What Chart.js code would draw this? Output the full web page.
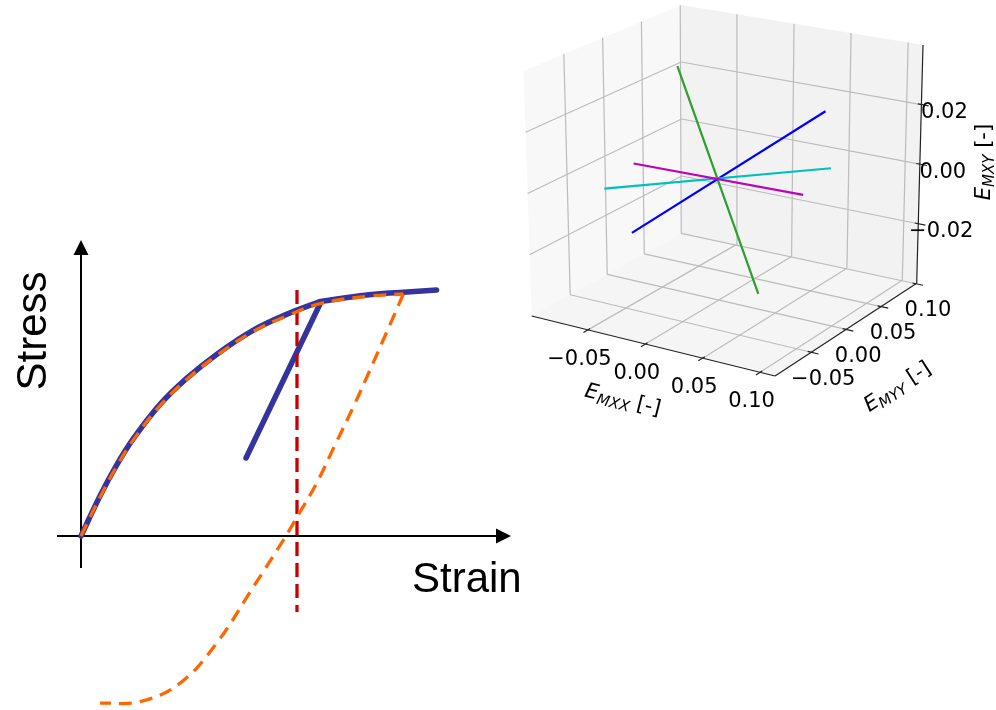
<!DOCTYPE html>
<html>
<head>
<meta charset="utf-8">
<script src="https://cdn.jsdelivr.net/npm/chart.js@4.4.1/dist/chart.umd.min.js"></script>
<style>
  html, body { margin: 0; padding: 0; background: #fff; }
  body { width: 996px; height: 710px; position: relative; overflow: hidden; }
  #curveBox { position: absolute; left: 0; top: 225px; width: 540px; height: 485px; }
  #strainBox { position: absolute; left: 500px; top: 0; width: 496px; height: 440px; }
</style>
</head>
<body>
<div id="curveBox"><canvas id="curveChart" width="540" height="485"></canvas></div>
<div id="strainBox"><canvas id="strainChart" width="496" height="440"></canvas></div>
<script>
// ---------- left: stress / strain sketch (arbitrary units) ----------
const loadStrain = [0, 0.475, 0.89, 1.3, 1.975, 2.64, 3.39, 4.3, 5.14, 5.975];
const loadStress = [0, 1.0, 1.77, 2.42, 3.29, 3.94, 4.54, 5.14, 5.54, 5.86];
const hardenStrain = [5.975, 7.14, 7.975, 8.89];
const hardenStress = [5.86, 6.025, 6.09, 6.15];
const unloadStrain = [5.975, 4.125];
const unloadStress = [5.8, 1.95];
const modelUpStrain = [0, 0.475, 0.89, 1.3, 1.975, 2.64, 3.39, 4.3, 5.14, 5.975, 7.14, 8.06];
const modelUpStress = [0, 0.97, 1.74, 2.39, 3.26, 3.91, 4.51, 5.11, 5.5, 5.81, 5.99, 6.05];
const modelDownStrain = [8.06, 7.81, 7.225, 6.81, 6.35, 5.89, 5.475, 5.06, 4.31, 3.39, 2.475, 1.475, 0.475];
const modelDownStress = [6.05, 5.48, 4.15, 3.23, 2.275, 1.32, 0.6, -0.1, -1.27, -2.68, -3.68, -4.14, -4.18];
const markStrain = [5.4, 5.4];
const markStress = [6.15, -1.9];
const axisStrain = [-0.6, 10.75];
const axisStress = [-0.8, 7.4];

// ---------- right: 3D strain plot ----------
const exxLim = [-0.099, 0.113];
const eyyLim = [-0.102, 0.101];
const exyLim = [-0.040, 0.040];
const exxTicks = [-0.05, 0.00, 0.05, 0.10];
const eyyTicks = [-0.05, 0.00, 0.05, 0.10];
const exyTicks = [-0.02, 0.00, 0.02];
const exxTickLabels = ['\u22120.05', '0.00', '0.05', '0.10'];
const eyyTickLabels = ['\u22120.05', '0.00', '0.05', '0.10'];
const exyTickLabels = ['\u22120.02', '0.00', '0.02'];
// one segment per line: [start, end]
const exxEnds = [[-0.035, 0.035], [-0.041, 0.051], [-0.059, 0.059], [-0.072, 0.072]];
const eyyEnds = [[0.000, 0.000], [-0.054, 0.066], [-0.062, 0.062], [-0.003, 0.003]];
const exyEnds = [[0.035, -0.035], [-0.014, 0.018], [0.000, 0.000], [0.000, 0.000]];
const lineColors = ['#2ca02c', '#0000ff', '#00bfbf', '#bf00bf'];

const data2d = (xs, ys) => xs.map((x, i) => ({ x: x, y: ys[i] }));

// layout of the sketch: origin pixel and scale
const UNIT = 40, ORIGIN_X = 81, ORIGIN_Y = 311, CW = 540, CH = 485;

const arrowAxes = {
  id: 'arrowAxes',
  beforeDatasetsDraw(chart) {
    const ctx = chart.ctx, xs = chart.scales.x, ys = chart.scales.y;
    const y0 = ys.getPixelForValue(0), x0 = xs.getPixelForValue(0);
    const xa = xs.getPixelForValue(axisStrain[0]), xb = xs.getPixelForValue(axisStrain[1]);
    const ya = ys.getPixelForValue(axisStress[0]), yb = ys.getPixelForValue(axisStress[1]);
    const head = 15, half = 7.5;
    ctx.save();
    ctx.strokeStyle = '#000';
    ctx.fillStyle = '#000';
    ctx.lineWidth = 2;
    ctx.beginPath();
    ctx.moveTo(xa, y0); ctx.lineTo(xb - head + 1, y0);
    ctx.moveTo(x0, ya); ctx.lineTo(x0, yb + head - 1);
    ctx.stroke();
    ctx.beginPath();
    ctx.moveTo(xb, y0); ctx.lineTo(xb - head, y0 - half); ctx.lineTo(xb - head, y0 + half); ctx.closePath();
    ctx.moveTo(x0, yb); ctx.lineTo(x0 - half, yb + head); ctx.lineTo(x0 + half, yb + head); ctx.closePath();
    ctx.fill();
    ctx.font = '42px "Liberation Sans", Arial, sans-serif';
    ctx.textAlign = 'left';
    ctx.textBaseline = 'alphabetic';
    ctx.fillText('Strain', 412, 367);
    ctx.translate(34.5, 106);
    ctx.rotate(-Math.PI / 2);
    ctx.textAlign = 'center';
    ctx.textBaseline = 'middle';
    ctx.fillText('Stress', 0, 0);
    ctx.restore();
  }
};

new Chart(document.getElementById('curveChart'), {
  type: 'line',
  data: {
    datasets: [
      { data: data2d(modelUpStrain, modelUpStress), borderColor: '#ff6600', borderWidth: 3.3, borderDash: [13, 8], order: 1 },
      { data: data2d(modelDownStrain, modelDownStress), borderColor: '#ff6600', borderWidth: 3.3, borderDash: [13, 8], order: 1 },
      { data: data2d(markStrain, markStress), borderColor: '#c80000', borderWidth: 3.3, borderDash: [14, 7], tension: 0, order: 2 },
      { data: data2d(unloadStrain, unloadStress), borderColor: '#34349c', borderWidth: 5.5, borderCapStyle: 'round', tension: 0, order: 3 },
      { data: data2d(hardenStrain, hardenStress), borderColor: '#34349c', borderWidth: 5.5, borderCapStyle: 'round', order: 4 },
      { data: data2d(loadStrain, loadStress), borderColor: '#34349c', borderWidth: 5.5, borderCapStyle: 'round', order: 4 }
    ].map(d => Object.assign({ pointRadius: 0, fill: false, tension: 0.4, capBezierPoints: false }, d))
  },
  options: {
    responsive: false,
    animation: false,
    devicePixelRatio: 1,
    events: [],
    layout: { padding: 0 },
    plugins: { legend: { display: false }, tooltip: { enabled: false } },
    scales: {
      x: { type: 'linear', display: false, min: -ORIGIN_X / UNIT, max: (CW - ORIGIN_X) / UNIT },
      y: { type: 'linear', display: false, min: -(CH - ORIGIN_Y) / UNIT, max: ORIGIN_Y / UNIT }
    }
  },
  plugins: [arrowAxes]
});

// ---------- 3D projection: box corners on the page, trilinear in between ----------
const corner = {
  '000': [531.7, 316], '100': [775, 376], '010': [682, 233], '110': [916.7, 283.3],
  '001': [523.5, 71], '101': [776, 119], '011': [681, 5], '111': [923, 45]
};
function project(x, y, z) {
  const u = (x - exxLim[0]) / (exxLim[1] - exxLim[0]);
  const v = (y - eyyLim[0]) / (eyyLim[1] - eyyLim[0]);
  const w = (z - exyLim[0]) / (exyLim[1] - exyLim[0]);
  let px = 0, py = 0;
  for (const key in corner) {
    const a = +key[0], b = +key[1], c = +key[2];
    const k = (a ? u : 1 - u) * (b ? v : 1 - v) * (c ? w : 1 - w);
    px += k * corner[key][0];
    py += k * corner[key][1];
  }
  return { x: px, y: py };
}
const P = (p) => project(p[0], p[1], p[2]);

const [x0, x1] = exxLim, [y0, y1] = eyyLim, [z0, z1] = exyLim;
const ds3 = [];
function addLine(pts, style) {
  ds3.push(Object.assign({ data: pts.map(P), showLine: true, pointRadius: 0, fill: false }, style));
}
// panes
addLine([[x0, y0, z0], [x0, y1, z0], [x0, y1, z1], [x0, y0, z1], [x0, y0, z0]],
  { borderWidth: 0, borderColor: 'rgba(0,0,0,0)', fill: 'shape', backgroundColor: 'rgba(242,242,242,0.5)' });
addLine([[x0, y1, z0], [x1, y1, z0], [x1, y1, z1], [x0, y1, z1], [x0, y1, z0]],
  { borderWidth: 0, borderColor: 'rgba(0,0,0,0)', fill: 'shape', backgroundColor: 'rgba(230,230,230,0.5)' });
addLine([[x0, y0, z0], [x1, y0, z0], [x1, y1, z0], [x0, y1, z0], [x0, y0, z0]],
  { borderWidth: 0, borderColor: 'rgba(0,0,0,0)', fill: 'shape', backgroundColor: 'rgba(236,236,236,0.5)' });
// grid
const grid = { borderColor: '#bcbcbc', borderWidth: 1.2 };
exxTicks.forEach(t => {
  addLine([[t, y0, z0], [t, y1, z0]], grid);
  addLine([[t, y1, z0], [t, y1, z1]], grid);
});
eyyTicks.forEach(t => {
  addLine([[x0, t, z0], [x1, t, z0]], grid);
  addLine([[x0, t, z0], [x0, t, z1]], grid);
});
exyTicks.forEach(t => {
  addLine([[x0, y0, t], [x0, y1, t]], grid);
  addLine([[x0, y1, t], [x1, y1, t]], grid);
});
// axis lines and tick marks
const axis = { borderColor: '#222', borderWidth: 1.2 };
addLine([[x0, y0, z0], [x1, y0, z0]], axis);
addLine([[x1, y0, z0], [x1, y1, z0]], axis);
addLine([[x1, y1, z0], [x1, y1, z1]], axis);
const tx = 0.03 * (x1 - x0), ty = 0.03 * (y1 - y0);
exxTicks.forEach(t => addLine([[t, y0 + ty * 0.5, z0], [t, y0 - ty, z0]], axis));
eyyTicks.forEach(t => addLine([[x1 - tx * 0.5, t, z0], [x1 + tx, t, z0]], axis));
exyTicks.forEach(t => addLine([[x1 - tx * 0.5, y1, t], [x1 + tx, y1, t]], axis));
// strain lines
lineColors.forEach((col, i) => {
  addLine([[exxEnds[i][0], eyyEnds[i][0], exyEnds[i][0]], [exxEnds[i][1], eyyEnds[i][1], exyEnds[i][1]]],
    { borderColor: col, borderWidth: 2.2 });
});
ds3.forEach((d, i) => { d.order = ds3.length - i; });

function mathLabel(ctx, cx, cy, angle, sub) {
  ctx.save();
  ctx.translate(cx, cy);
  ctx.rotate(angle * Math.PI / 180);
  const fMain = 'italic 21px "DejaVu Sans"', fSub = 'italic 15px "DejaVu Sans"', fPlain = '21px "DejaVu Sans"';
  ctx.font = fMain; const wE = ctx.measureText('E').width;
  ctx.font = fSub; const wS = ctx.measureText(sub).width;
  ctx.font = fPlain; const wT = ctx.measureText(' [-]').width;
  let x = -(wE + wS + wT) / 2;
  ctx.textAlign = 'left';
  ctx.textBaseline = 'alphabetic';
  ctx.font = fMain; ctx.fillText('E', x, 7); x += wE;
  ctx.font = fSub; ctx.fillText(sub, x, 11); x += wS;
  ctx.font = fPlain; ctx.fillText(' [-]', x, 7);
  ctx.restore();
}

const axisText = {
  id: 'axisText',
  afterDatasetsDraw(chart) {
    const ctx = chart.ctx, xs = chart.scales.x, ys = chart.scales.y;
    const at = (p) => ({ x: xs.getPixelForValue(p.x), y: ys.getPixelForValue(p.y) });
    ctx.save();
    ctx.fillStyle = '#000';
    ctx.font = '21px "DejaVu Sans"';
    ctx.textAlign = 'center';
    ctx.textBaseline = 'middle';
    exxTicks.forEach((t, i) => {
      const p = at(project(t, y0, z0));
      ctx.fillText(exxTickLabels[i], p.x - 8.5, p.y + 29.5);
    });
    eyyTicks.forEach((t, i) => {
      const p = at(project(x1, t, z0));
      ctx.fillText(eyyTickLabels[i], p.x + 12, p.y + 27);
    });
    exyTicks.forEach((t, i) => {
      const p = at(project(x1, y1, t));
      ctx.fillText(exyTickLabels[i], p.x + 23, p.y + 8);
    });
    ctx.restore();
    mathLabel(ctx, xs.getPixelForValue(623), ys.getPixelForValue(399), 14.1, 'MXX');
    mathLabel(ctx, xs.getPixelForValue(897), ys.getPixelForValue(386), -32.8, 'MYY');
    mathLabel(ctx, xs.getPixelForValue(983), ys.getPixelForValue(162), -90, 'MXY');
  }
};

new Chart(document.getElementById('strainChart'), {
  type: 'scatter',
  data: { datasets: ds3 },
  options: {
    responsive: false,
    animation: false,
    devicePixelRatio: 1,
    events: [],
    layout: { padding: 0 },
    plugins: { legend: { display: false }, tooltip: { enabled: false } },
    scales: {
      x: { type: 'linear', display: false, min: 500, max: 996 },
      y: { type: 'linear', display: false, min: 0, max: 440, reverse: true }
    }
  },
  plugins: [axisText]
});
</script>
</body>
</html>
